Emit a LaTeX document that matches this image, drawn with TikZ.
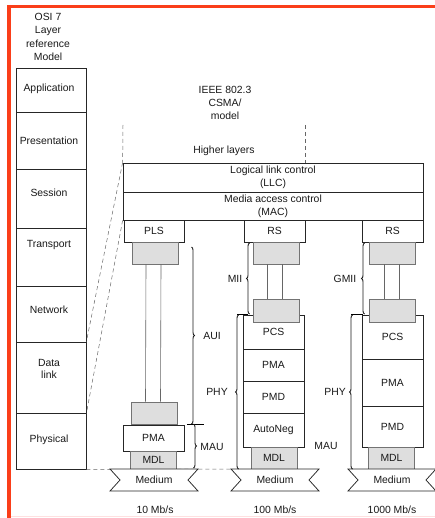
\documentclass[tikz,border=0pt]{standalone}
\usepackage{fontspec}
\setmainfont{Liberation Sans}
\usetikzlibrary{decorations.pathreplacing}
\definecolor{edge}{RGB}{250,62,25}

\begin{document}
\begin{tikzpicture}[x=1pt,y=-1pt,line width=0.75pt,
  font=\fontsize{10.4}{12.8}\selectfont,
  layerbox/.style={draw=black!85,fill=white,text=black!90,inner sep=0pt,minimum width=61pt,minimum height=#1},
  osi/.style={draw=black!85,fill=white,inner sep=0pt,minimum width=70pt,minimum height=#1},
  greybox/.style={draw=black!55,fill=black!13,text=black!90,inner sep=0pt,minimum width=46pt,minimum height=#1},
  lbl/.style={text=black!90,inner sep=0pt,align=center},
  guide/.style={draw=black!60,line width=0.5pt,dash pattern=on 4pt off 3pt},
  brc/.style={decorate,decoration={brace,amplitude=3pt},line width=0.9pt,draw=black!90},
  wire/.style={draw=black!60,line width=0.6pt}]

\useasboundingbox (0,0) rectangle (435,518);

% frame of the scan
\draw[line width=3pt,draw=edge] (7,6.5) -- (435,6.5);
\draw[line width=3.5pt,draw=edge] (9.2,5) -- (9.2,518);
\draw[line width=1pt,draw=red!12] (11,516.5) -- (435,516.5);

% OSI column
\node[lbl,font=\fontsize{10.4}{13.3}\selectfont] (osititle) at (48,37) {OSI 7\\Layer\\reference\\Model};
\node[osi=44pt] (app) at (51,90) {};
\node[osi=57pt] (pres) at (51,140.5) {};
\node[osi=59pt] (sess) at (51,198.5) {};
\node[osi=58pt] (trans) at (51,257) {};
\node[osi=56pt] (net) at (51,314) {};
\node[osi=71pt] (dlink) at (51,377.5) {};
\node[osi=56pt] (phys) at (51,441) {};

\node[lbl] (tapp) at (49,89) {Application};
\node[lbl] (tpres) at (49,141) {Presentation};
\node[lbl] (tsess) at (49,193) {Session};
\node[lbl] (ttrans) at (49,245) {Transport};
\node[lbl] (tnet) at (49,310) {Network};
\node[lbl] (tdlink) at (49,369) {Data\\link};
\node[lbl] (tphys) at (49,440) {Physical};

% IEEE model
\node[lbl,font=\fontsize{10.4}{13}\selectfont] (ieee) at (225,103) {IEEE 802.3\\CSMA/\\model};
\node[lbl] (higher) at (224,151) {Higher layers};

\coordinate (top1) at (123,125);
\coordinate (top2) at (305,125);
\coordinate (med2nw) at (231,469);

\node[layerbox=29pt,minimum width=300pt,align=center] (llc) at (273,177.5) {Logical link control\\(LLC)};
\node[layerbox=28pt,minimum width=300pt,align=center] (mac) at (273,206) {Media access control\\(MAC)};

\draw[guide] (top1) -- (llc.north west);
\draw[guide] (top2) -- (top2 |- llc.north);
\draw[guide] (llc.north west) -- (dlink.north east);
\draw[guide] (mac.south west) -- (dlink.south east);
\draw[guide] (phys.south east) -- (med2nw);

% 10 Mb/s
\node[layerbox=22pt,minimum width=60pt] (pls) at (154,231) {PLS};
\node[greybox=22pt] (aui1) at (155,253) {};
\node[greybox=22pt] (aui2) at (154.5,413) {};
\node[layerbox=26pt] (pma1) at (153.5,438) {PMA};
\node[greybox=18pt] (mdl1) at (153.5,460) {MDL};
\draw[wire] ([xshift=-9pt]aui1.south) -- ([xshift=-9pt]aui2.north);
\draw[wire] ([xshift=6pt]aui1.south) -- ([xshift=6pt]aui2.north);

% 100 Mb/s
\node[layerbox=22pt] (rs2) at (274.5,231) {RS};
\node[greybox=22pt] (mii2a) at (276,253) {};
\node[layerbox=34pt] (pcs2) at (273.5,332) {PCS};
\node[layerbox=32pt] (pma2) at (273.5,365) {PMA};
\node[layerbox=32pt] (pmd2) at (273.5,397) {PMD};
\node[layerbox=34pt] (an2) at (273.5,430) {AutoNeg};
\node[greybox=23pt] (mii2b) at (276,310.5) {};
\node[greybox=22pt] (mdl2) at (274,458) {MDL};
\draw[wire] ([xshift=-9pt]mii2a.south) -- ([xshift=-9pt]mii2b.north);
\draw[wire] ([xshift=6pt]mii2a.south) -- ([xshift=6pt]mii2b.north);

% 1000 Mb/s
\node[layerbox=22pt] (rs3) at (392.5,231) {RS};
\node[greybox=22pt] (gm3a) at (392.5,253) {};
\node[layerbox=44pt] (pcs3) at (392.5,337) {PCS};
\node[layerbox=47pt] (pma3) at (392.5,382.5) {PMA};
\node[layerbox=41pt] (pmd3) at (392.5,426.5) {PMD};
\node[greybox=23pt] (gm3b) at (392.5,310.5) {};
\node[greybox=22pt] (mdl3) at (391.5,458) {MDL};
\draw[wire] ([xshift=-8.5pt]gm3a.south) -- ([xshift=-8.5pt]gm3b.north);
\draw[wire] ([xshift=6.5pt]gm3a.south) -- ([xshift=6.5pt]gm3b.north);

% media
\foreach \c/\n in {154/med1,275/med2,392/med3}{
  \draw[draw=black!85,fill=white] (\c-44,469) -- (\c+44,469) -- (\c+34,480) -- (\c+44,491) -- (\c-44,491) -- (\c-34,480) -- cycle;
  \node[lbl] (\n) at (\c,480) {Medium};
}
\node[lbl] (sp1) at (155,510) {10 Mb/s};
\node[lbl] (sp2) at (275,510) {100 Mb/s};
\node[lbl] (sp3) at (392,510) {1000 Mb/s};

% braces
\draw[brc] (191.5,247) -- (191.5,424);
\draw[line width=0.9pt] (187,424) -- (204,424);
\draw[brc] (193.5,424) -- (193.5,468);
\node[lbl] (aui) at (212,336) {AUI};
\node[lbl] (mau1) at (212,447) {MAU};

\draw[brc] (249.5,314) -- (249.5,243);
\draw[brc] (238.5,469) -- (238.5,315);
\draw[line width=0.9pt] (237,314.5) -- (248,314.5);
\node[lbl] (mii) at (235,279) {MII};
\node[lbl] (phy2) at (217,392) {PHY};

\draw[brc] (364.5,314) -- (364.5,243);
\draw[brc] (352.5,469) -- (352.5,315);
\draw[line width=0.9pt] (351,314.5) -- (363,314.5);
\node[lbl] (gmii) at (345,279) {GMII};
\node[lbl] (phy3) at (335,392) {PHY};
\node[lbl] (mau2) at (326,446) {MAU};
\end{tikzpicture}
\end{document}
